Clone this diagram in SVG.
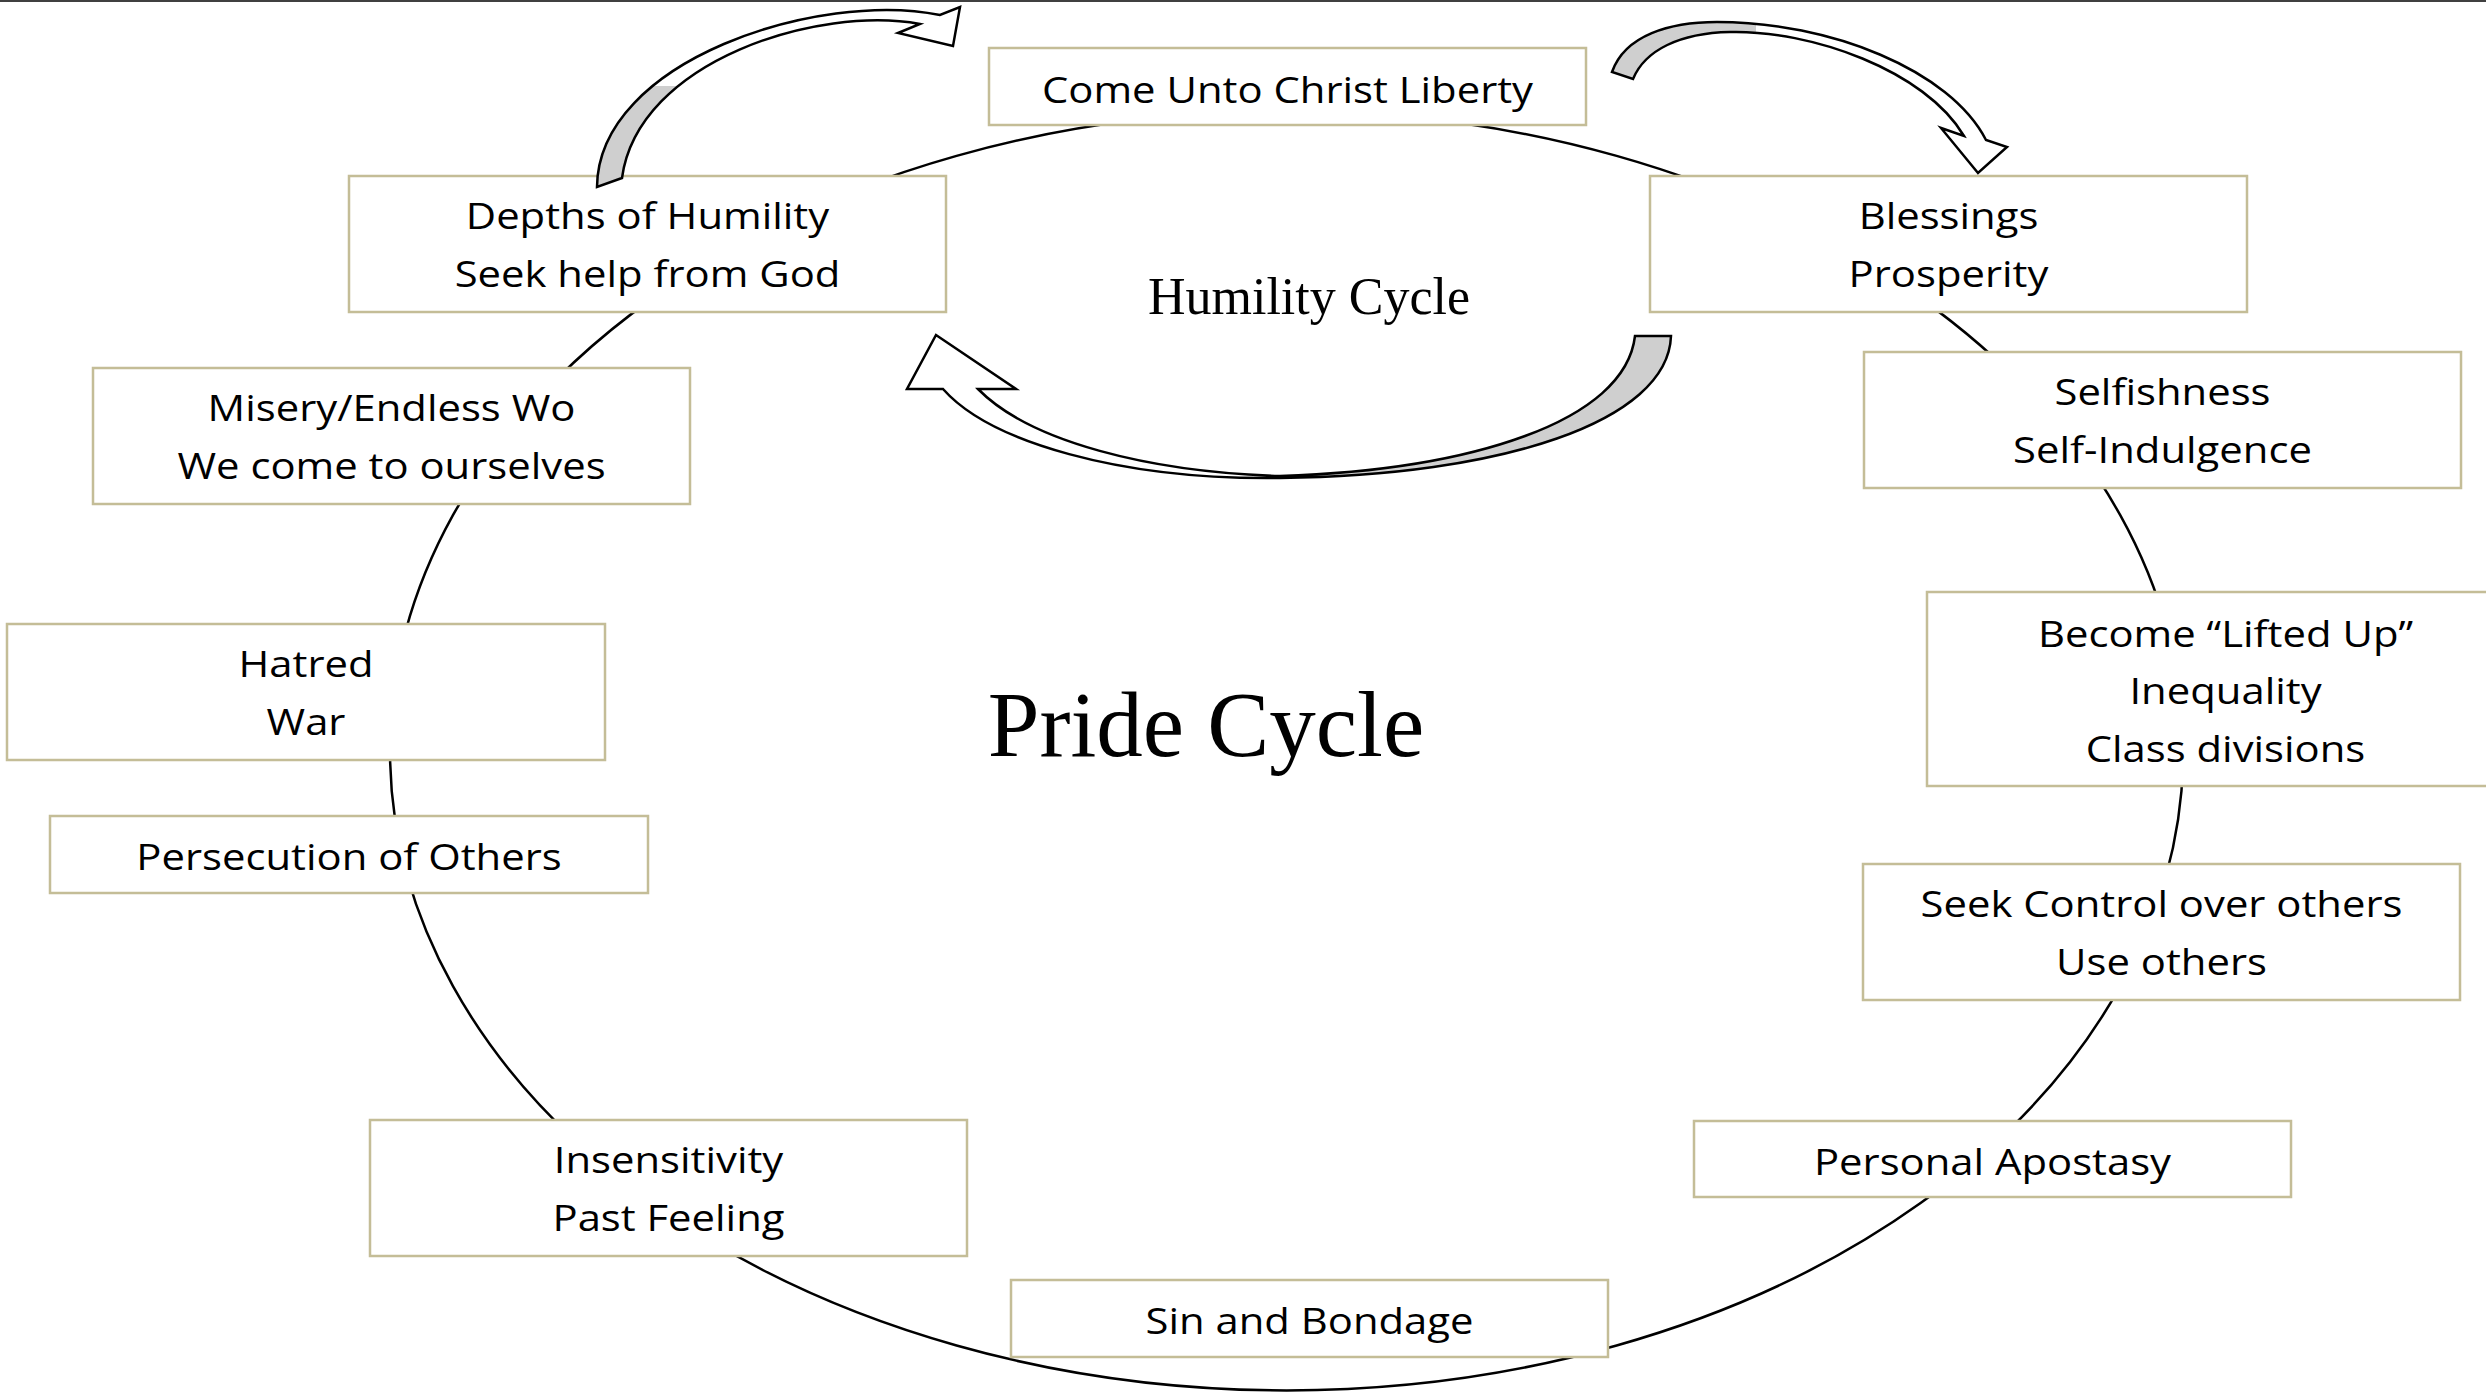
<svg xmlns="http://www.w3.org/2000/svg" width="2486" height="1394" viewBox="0 0 2486 1394">
<style>
.box{fill:#ffffff;stroke:#c4bd97;stroke-width:2.5}
.lbl{font-family:"Open Sans","Noto Sans",sans-serif;font-size:37px;fill:#000;text-anchor:middle}
.ser{font-family:"Liberation Serif","Times New Roman",serif;fill:#000;text-anchor:middle}
.ring{fill:none;stroke:#000;stroke-width:2.5}
.arr{stroke:#000;stroke-width:2.5;stroke-linejoin:miter}
</style>
<defs>
<linearGradient id="gA" gradientUnits="userSpaceOnUse" x1="0" y1="0" x2="0" y2="200">
<stop offset="0" stop-color="#fff"/><stop offset="0.43" stop-color="#fff"/><stop offset="0.43" stop-color="#cfcfcf"/><stop offset="1" stop-color="#cfcfcf"/>
</linearGradient>
<linearGradient id="gB" gradientUnits="userSpaceOnUse" x1="1600" y1="0" x2="2010" y2="0">
<stop offset="0" stop-color="#cfcfcf"/><stop offset="0.38" stop-color="#cfcfcf"/><stop offset="0.38" stop-color="#fff"/><stop offset="1" stop-color="#fff"/>
</linearGradient>
<linearGradient id="gC" gradientUnits="userSpaceOnUse" x1="900" y1="0" x2="1680" y2="0">
<stop offset="0" stop-color="#fff"/><stop offset="0.5" stop-color="#fff"/><stop offset="0.5" stop-color="#cfcfcf"/><stop offset="1" stop-color="#cfcfcf"/>
</linearGradient>
</defs>
<rect x="0" y="0" width="2486" height="1394" fill="#ffffff"/>
<rect x="0" y="0" width="2486" height="2" fill="#404040"/>

<g id="connectors">
<ellipse class="ring" cx="1286.6" cy="750.7" rx="896.6" ry="639.7"/>
</g>

<g id="node-come-unto-christ">
<rect class="box" x="989" y="48" width="597" height="77"/>
<text class="lbl" transform="translate(1287.5,103) scale(1.13,1)"><tspan x="0" y="0">Come Unto Christ Liberty</tspan></text>
</g>
<g id="node-depths">
<rect class="box" x="349" y="176" width="597" height="136"/>
<text class="lbl" transform="translate(647.5,229) scale(1.13,1)"><tspan x="0" y="0">Depths of Humility</tspan><tspan x="0" y="58">Seek help from God</tspan></text>
</g>
<g id="node-blessings">
<rect class="box" x="1650" y="176" width="597" height="136"/>
<text class="lbl" transform="translate(1948.5,229) scale(1.13,1)"><tspan x="0" y="0">Blessings</tspan><tspan x="0" y="58">Prosperity</tspan></text>
</g>
<g id="node-selfishness">
<rect class="box" x="1864" y="352" width="597" height="136"/>
<text class="lbl" transform="translate(2162.5,405) scale(1.13,1)"><tspan x="0" y="0">Selfishness</tspan><tspan x="0" y="58">Self-Indulgence</tspan></text>
</g>
<g id="node-misery">
<rect class="box" x="93" y="368" width="597" height="136"/>
<text class="lbl" transform="translate(391.5,421) scale(1.13,1)"><tspan x="0" y="0">Misery/Endless Wo</tspan><tspan x="0" y="58">We come to ourselves</tspan></text>
</g>
<g id="node-hatred">
<rect class="box" x="7" y="624" width="598" height="136"/>
<text class="lbl" transform="translate(306,677) scale(1.13,1)"><tspan x="0" y="0">Hatred</tspan><tspan x="0" y="58">War</tspan></text>
</g>
<g id="node-lifted-up">
<rect class="box" x="1927" y="592" width="597" height="194"/>
<text class="lbl" transform="translate(2225.5,647) scale(1.13,1)"><tspan x="0" y="0">Become “Lifted Up”</tspan><tspan x="0" y="57">Inequality</tspan><tspan x="0" y="115">Class divisions</tspan></text>
</g>
<g id="node-persecution">
<rect class="box" x="50" y="816" width="598" height="77"/>
<text class="lbl" transform="translate(349,870) scale(1.13,1)"><tspan x="0" y="0">Persecution of Others</tspan></text>
</g>
<g id="node-seek-control">
<rect class="box" x="1863" y="864" width="597" height="136"/>
<text class="lbl" transform="translate(2161.5,917) scale(1.13,1)"><tspan x="0" y="0">Seek Control over others</tspan><tspan x="0" y="58">Use others</tspan></text>
</g>
<g id="node-insensitivity">
<rect class="box" x="370" y="1120" width="597" height="136"/>
<text class="lbl" transform="translate(668.5,1173) scale(1.13,1)"><tspan x="0" y="0">Insensitivity</tspan><tspan x="0" y="58">Past Feeling</tspan></text>
</g>
<g id="node-apostasy">
<rect class="box" x="1694" y="1121" width="597" height="76"/>
<text class="lbl" transform="translate(1992.5,1175) scale(1.13,1)"><tspan x="0" y="0">Personal Apostasy</tspan></text>
</g>
<g id="node-sin">
<rect class="box" x="1011" y="1280" width="597" height="77"/>
<text class="lbl" transform="translate(1309.5,1334) scale(1.13,1)"><tspan x="0" y="0">Sin and Bondage</tspan></text>
</g>

<g id="title-humility">
<text class="ser" x="1309" y="314" font-size="52">Humility Cycle</text>
</g>
<g id="title-pride">
<text class="ser" x="1206" y="756" font-size="93">Pride Cycle</text>
</g>

<g id="cycle-arrows">
<path class="arr" fill="url(#gA)" d="M597,187 C598,60 820,-10 940,15 L960,7 L953,46 L898,33 L920,24 C820,5 638,60 622,178 Z"/>
<path class="arr" fill="url(#gB)" d="M1612,72 C1625,35 1670,22 1717,22 C1830,22 1950,70 1986,140 L2007,147 L1978,173 L1941,128 L1964,136 C1925,70 1810,30 1730,32 C1680,33 1645,50 1633,79 Z"/>
<path class="arr" fill="url(#gC)" d="M1671,336 C1668,422 1500,476 1280,478 C1120,480 990,442 943,389 L907,389 L936,335 L1016,389 L978,389 C1030,442 1150,472 1280,476 C1470,470 1625,422 1635,336 Z"/>
</g>
</svg>
